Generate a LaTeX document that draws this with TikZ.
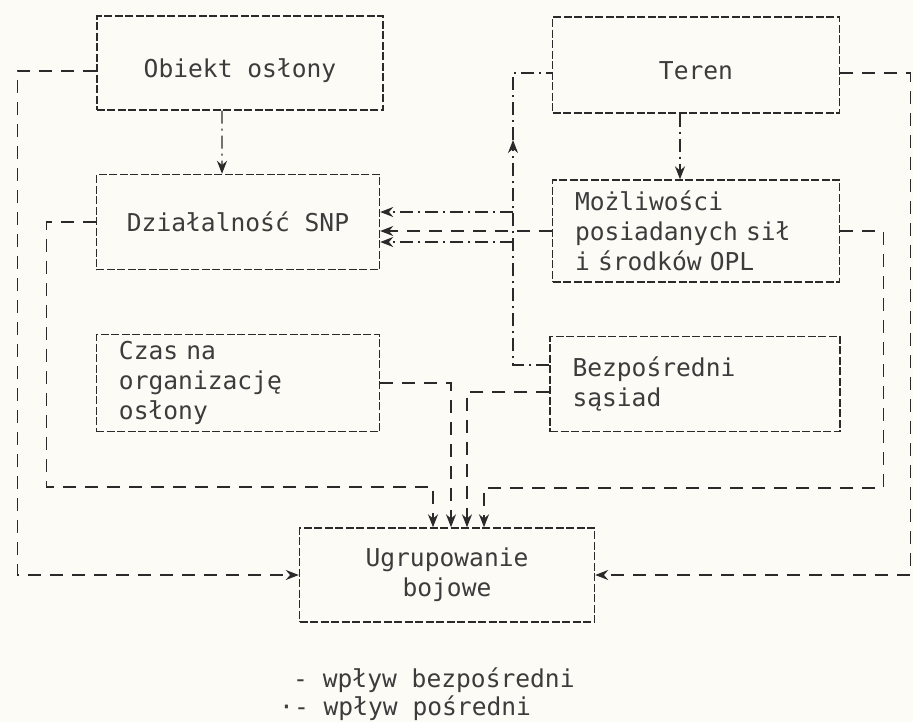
\documentclass[tikz,border=0pt]{standalone}
\usepackage{fontspec}
\setmonofont{DejaVu Sans Mono}
\usepackage{tikz}
\usetikzlibrary{arrows.meta}
\definecolor{linia}{HTML}{2A2A2A}
\definecolor{napis}{HTML}{3C3C3C}
\definecolor{tlo}{HTML}{FCFBF6}

\begin{document}
\begin{tikzpicture}[x=0.2mm,y=-0.2mm,
  >={Stealth[length=2.6mm,width=2mm]},
  pole/.style={draw=linia, line width=0.8pt, dash pattern=on 1.6mm off 0.5mm,
    text=napis, font=\ttfamily\fontsize{14}{17}\selectfont, inner xsep=4.5mm},
  nizej/.style={text height=6.8mm, text depth=1mm},
  bezposredni/.style={draw=linia, line width=0.8pt, dash pattern=on 2.6mm off 1.8mm},
  posredni/.style={draw=linia, line width=0.8pt, dash pattern=on 2.6mm off 1mm on 0.4mm off 1mm}]
\fill[tlo] (0,0) rectangle (913,722);
\useasboundingbox (0,0) rectangle (913,722);

\node [pole, nizej, minimum width=57.2mm, minimum height=18.8mm] (obiekt) at (240,63) {Obiekt osłony};
\node [pole, nizej, minimum width=57.4mm, minimum height=19.2mm] (teren) at (696,65) {Teren};
\node [pole, minimum width=56.6mm, minimum height=19mm] (dzial) at (238,222) {Działalność SNP};
\node [pole, text width=48.4mm, align=left, minimum height=20.4mm] (mozl) at (696,231)
  {Możliwości\\posiadanych sił\\i środków OPL};
\node [pole, text width=47.6mm, align=left, minimum height=19.4mm] (czas) at (238,383)
  {Czas na\\organizację\\osłony};
\node [pole, text width=49mm, align=left, minimum height=19mm] (sasiad) at (695,384)
  {Bezpośredni\\sąsiad};
\node [pole, minimum width=59mm, minimum height=18.8mm, align=center] (ugrup) at (447,575)
  {Ugrupowanie\\bojowe};

% punkty wejscia na gorze ugrupowania
\coordinate (u1) at ([xshift=-2.8mm]ugrup.north);
\coordinate (u2) at ([xshift=0.8mm]ugrup.north);
\coordinate (u3) at ([xshift=4mm]ugrup.north);
\coordinate (u4) at ([xshift=7.4mm]ugrup.north);
\coordinate (s1) at ([yshift=3.8mm]sasiad.west);
\coordinate (s2) at ([yshift=-1.6mm]sasiad.west);
\coordinate (d1) at ([yshift=2mm]dzial.east);
\coordinate (d3) at ([yshift=-4mm]dzial.east);
\coordinate (kol) at (513,140);

% wplyw posredni
\draw[posredni,->] ([xshift=-3.6mm]obiekt.south) -- ([xshift=-3.2mm]dzial.north);
\draw[posredni,->] ([xshift=-3.2mm]teren.south) -- ([xshift=-3.2mm]mozl.north);
\draw[posredni,->] (s1) -| (kol);
\draw[posredni] (kol) |- ([yshift=-1.6mm]teren.west);
\draw[posredni,->] (d1 -| kol) -- (d1);
\draw[posredni,->] (d3 -| kol) -- (d3);

% wplyw bezposredni
\draw[bezposredni,->] (mozl.west) -- (mozl.west -| dzial.east);
\draw[bezposredni,->] ([yshift=-1.6mm]obiekt.west) -- ++(-79,0) |- (ugrup.west);
\draw[bezposredni,->] (dzial.west) -| ++(-49,265) -| (u1);
\draw[bezposredni,->] (czas.east) -| (u2);
\draw[bezposredni,->] (s2) -| (u3);
\draw[bezposredni,->] (mozl.east) -| ++(43,257) -| (u4);
\draw[bezposredni,->] ([yshift=-1.6mm]teren.east) -- ++(70,0) |- (ugrup.east);

% legenda
\node [anchor=west, text=napis, font=\ttfamily\fontsize{14}{17}\selectfont] (leg1) at (287,680) {- wpływ bezpośredni};
\node [anchor=west, text=napis, font=\ttfamily\fontsize{14}{17}\selectfont] (leg2) at (273,708) {·- wpływ pośredni};
\end{tikzpicture}
\end{document}
